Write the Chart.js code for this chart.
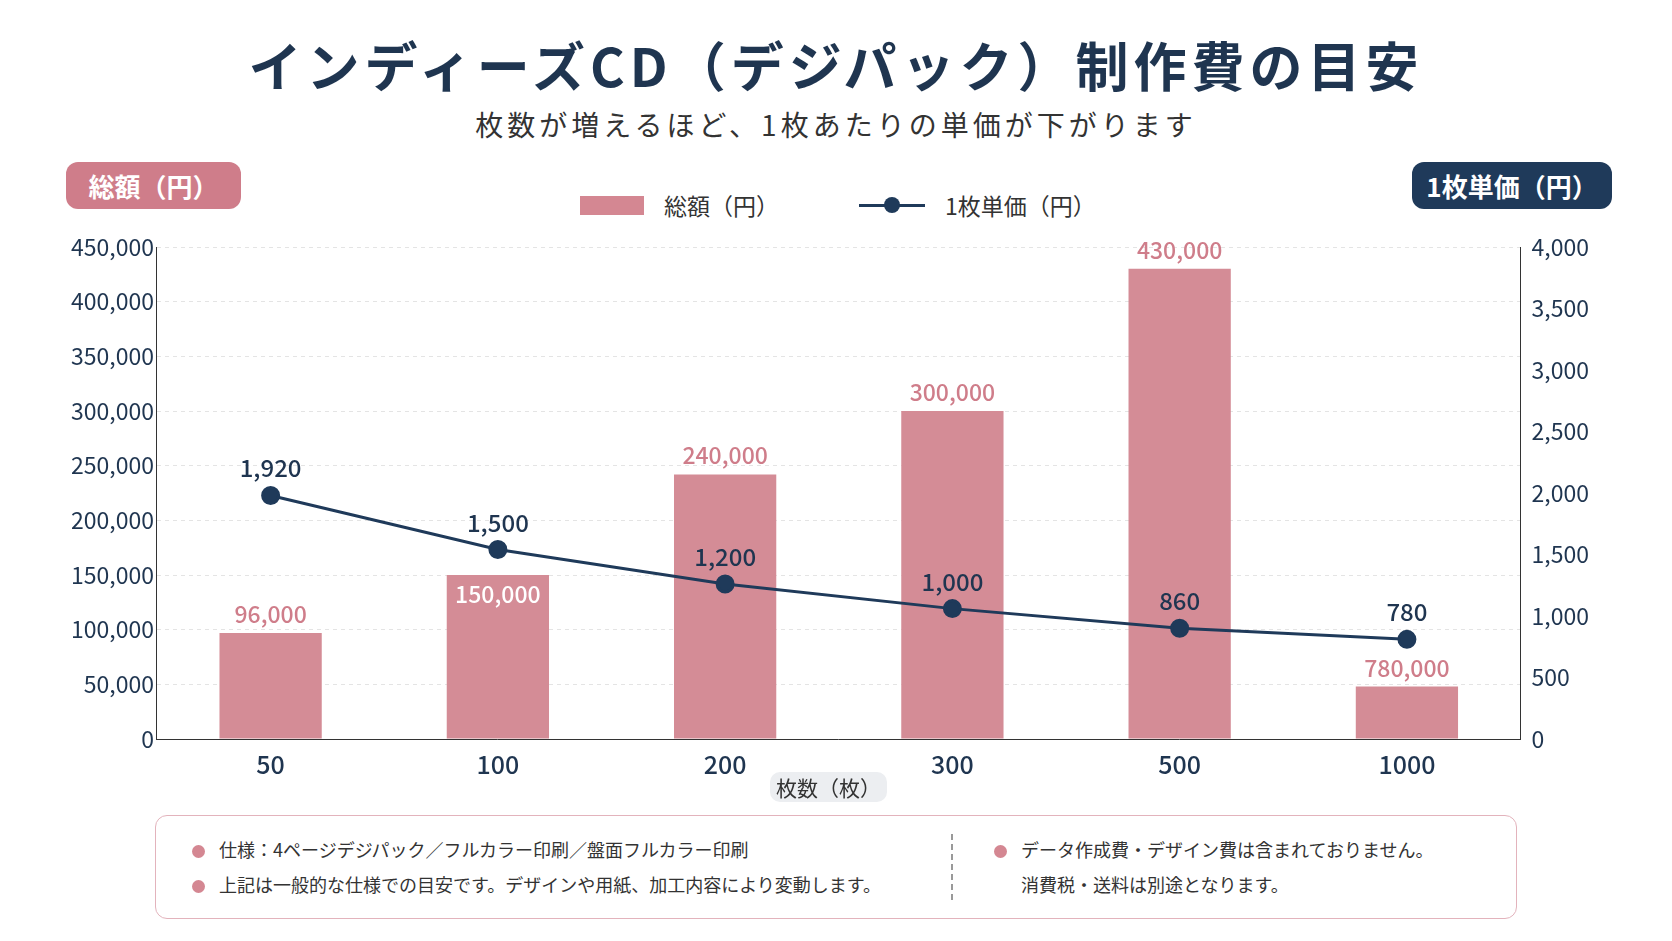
<!DOCTYPE html>
<html><head><meta charset="utf-8">
<script src="https://cdn.jsdelivr.net/npm/chart.js@4"></script>
<style>
body{margin:0;width:1672px;height:941px;background:#fff;font-family:"Noto Sans CJK JP","Noto Sans",sans-serif;color:#1f3550;position:relative;overflow:hidden}
.abs{position:absolute}
#title{left:0;width:1672px;top:26px;text-align:center;font-size:53px;font-weight:700;letter-spacing:5px}
#sub{left:0;width:1672px;top:104px;text-align:center;font-size:28px;letter-spacing:4px;color:#333}
.badge{top:162px;height:47px;line-height:47px;border-radius:12px;color:#fff;font-size:26px;font-weight:700;text-align:center}
#legend{top:188px;left:580px;font-size:23px;display:flex;align-items:center;color:#333}
#xt{left:770px;top:772px;width:117px;height:30px;line-height:30px;background:#eceef1;border-radius:10px;text-align:center;font-size:21px;color:#333}
#note{left:155px;top:815px;width:1360px;height:102px;border:1.5px solid #e3b3bc;border-radius:12px;font-size:18px;color:#333}
.li{position:absolute;white-space:nowrap}
.li.b:before{content:"";display:inline-block;width:13px;height:13px;border-radius:50%;background:#d48792;margin-right:14px;vertical-align:-1px}
</style></head><body>
<div id="title" class="abs">インディーズCD（デジパック）制作費の目安</div>
<div id="sub" class="abs">枚数が増えるほど、1枚あたりの単価が下がります</div>
<div class="abs badge" style="left:66px;width:175px;background:#cf7d8a">総額（円）</div>
<div class="abs badge" style="left:1412px;width:200px;background:#1f3a5a">1枚単価（円）</div>
<div id="legend" class="abs">
 <span style="display:inline-block;width:64px;height:19px;background:#d48792;margin-right:20px"></span>総額（円）
 <span style="display:inline-block;width:66px;margin-left:80px;margin-right:20px;position:relative;height:3px;background:#1f3a5a"><span style="position:absolute;left:25px;top:-7px;width:16px;height:16px;border-radius:50%;background:#1f3a5a"></span></span>1枚単価（円）
</div>
<div class="abs" style="left:0;top:225px;width:1672px;height:556px"><canvas id="c"></canvas></div>
<div id="xt" class="abs">枚数（枚）</div>
<div id="note" class="abs">
 <div class="li b" style="left:36px;top:20px">仕様：4ページデジパック／フルカラー印刷／盤面フルカラー印刷</div>
 <div class="li b" style="left:36px;top:55px">上記は一般的な仕様での目安です。デザインや用紙、加工内容により変動します。</div>
 <div class="abs" style="left:795px;top:18px;height:66px;border-left:2px dashed #999"></div>
 <div class="li b" style="left:838px;top:20px">データ作成費・デザイン費は含まれておりません。</div>
 <div class="li" style="left:865px;top:55px;">消費税・送料は別途となります。</div>
</div>
<script>
const categories = ["50","100","200","300","500","1000"];
const totalValues = [97000, 150000, 242000, 300000, 430000, 48000];
const totalLabels = ["96,000","150,000","240,000","300,000","430,000","780,000"];
const unitValues = [1980, 1540, 1260, 1060, 900, 810];
const unitLabels = ["1,920","1,500","1,200","1,000","860","780"];

const labelPlugin = {
  id: 'labels',
  afterDatasetsDraw(chart) {
    const ctx = chart.ctx;
    ctx.save();
    ctx.textAlign = 'center';
    ctx.font = '500 23px "Noto Sans CJK JP"';
    chart.getDatasetMeta(0).data.forEach((b, i) => {
      if (i === 1) { ctx.fillStyle = '#fff'; ctx.fillText(totalLabels[i], b.x, b.y + 28); }
      else { ctx.fillStyle = '#cf7d8a'; ctx.fillText(totalLabels[i], b.x, b.y - 10); }
    });
    ctx.fillStyle = '#1f3550';
    ctx.font = '500 24px "Noto Sans CJK JP"';
    chart.getDatasetMeta(1).data.forEach((p, i) => {
      ctx.fillText(unitLabels[i], p.x, p.y - 18);
    });
    ctx.restore();
  }
};

new Chart(document.getElementById('c'), {
  data: {
    labels: categories,
    datasets: [
      { type: 'bar', data: totalValues, backgroundColor: '#d48c96', yAxisID: 'y', barPercentage: 0.45, categoryPercentage: 1, order: 2 },
      { type: 'line', data: unitValues, borderColor: '#1f3a5a', backgroundColor: '#1f3a5a', borderWidth: 3, pointRadius: 8, yAxisID: 'y1', order: 1 }
    ]
  },
  options: {
    responsive: true, maintainAspectRatio: false, animation: false,
    layout: { padding: { left: 68, right: 80, top: 22, bottom: 0 } },
    plugins: { legend: { display: false }, tooltip: { enabled: false } },
    scales: {
      x: { grid: { display: false }, border: { color: '#333' },
           ticks: { color: '#1f3550', font: { size: 25, weight: 500, family: 'Noto Sans CJK JP' }, padding: 2 } },
      y: { position: 'left', min: 0, max: 450000, ticks: { stepSize: 50000, color: '#1f3550', font: { size: 23, family: 'Noto Sans CJK JP' },
             callback: v => v.toLocaleString('en-US') },
           grid: { color: '#e4e4e4', drawTicks: false }, border: { color: '#333', dash: [4, 4] } },
      y1: { position: 'right', min: 0, max: 4000, ticks: { stepSize: 500, color: '#1f3550', font: { size: 23, family: 'Noto Sans CJK JP' },
             callback: v => v.toLocaleString('en-US') },
            grid: { display: false }, border: { color: '#333' } }
    }
  },
  plugins: [labelPlugin]
});
</script>
</body></html>
